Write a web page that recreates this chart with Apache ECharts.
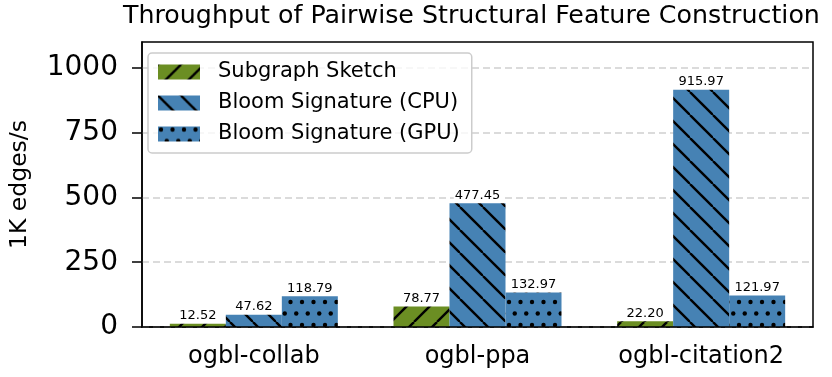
<!DOCTYPE html>
<html>
<head>
<meta charset="utf-8">
<script src="https://cdn.jsdelivr.net/npm/echarts@6/dist/echarts.min.js"></script>
<style>
  html, body { margin: 0; padding: 0; background: #fff; }
  #chart { width: 832px; height: 377px; }
</style>
</head>
<body>
<div id="chart"></div>
<script>
var categories = ['ogbl-collab', 'ogbl-ppa', 'ogbl-citation2'];
var sketchVals = [12.52, 78.77, 22.20];
var cpuVals = [47.62, 477.45, 915.97];
var gpuVals = [118.79, 132.97, 121.97];
var yTicks = [0, 250, 500, 750, 1000];

var FONT = 'DejaVu Sans';

// hatch tiles, like matplotlib '/', '\\' and '.'
function hatchLines(bg, dir) {
    var s = 23;
    var c = document.createElement('canvas');
    c.width = s; c.height = s;
    var ctx = c.getContext('2d');
    ctx.fillStyle = bg;
    ctx.fillRect(0, 0, s, s);
    ctx.strokeStyle = '#000';
    ctx.lineWidth = 2.4;
    for (var k = -1; k <= 1; k++) {
        ctx.beginPath();
        if (dir === '/') {
            ctx.moveTo(k * s, s);
            ctx.lineTo(k * s + s, 0);
        } else {
            ctx.moveTo(k * s, 0);
            ctx.lineTo(k * s + s, s);
        }
        ctx.stroke();
    }
    return { image: c, repeat: 'repeat' };
}

function hatchDots(bg) {
    var s = 23;
    var c = document.createElement('canvas');
    c.width = s; c.height = s;
    var ctx = c.getContext('2d');
    ctx.fillStyle = bg;
    ctx.fillRect(0, 0, s, s);
    ctx.fillStyle = '#000';
    var pts = [[3, 3], [14.5, 3], [8.75, 14.5], [20.25, 14.5]];
    pts.forEach(function (p) {
        ctx.beginPath();
        ctx.arc(p[0], p[1], 2.2, 0, Math.PI * 2);
        ctx.fill();
    });
    return { image: c, repeat: 'repeat' };
}

var green = '#6b8e23';
var blue = '#4682b4';

var barLabel = {
    show: true,
    position: 'top',
    distance: 1,
    fontFamily: FONT,
    fontSize: 13,
    lineHeight: 14,
    color: '#000',
    backgroundColor: '#fff',
    padding: [0, 1, 0, 1],
    formatter: function (p) { return p.value.toFixed(2); }
};

var myChart = echarts.init(document.getElementById('chart'));

var option = {
    animation: false,
    textStyle: { fontFamily: FONT },
    title: {
        text: 'Throughput of Pairwise Structural Feature Construction',
        left: 123,
        top: 2,
        padding: 0,
        textStyle: {
            fontFamily: FONT,
            fontSize: 25.3,
            fontWeight: 'normal',
            lineHeight: 28,
            color: '#000'
        }
    },
    legend: {
        left: 148,
        top: 53,
        orient: 'vertical',
        icon: 'rect',
        itemWidth: 42,
        itemHeight: 15,
        itemGap: 7,
        padding: [7, 12, 7, 10],
        borderColor: '#cccccc',
        borderWidth: 1.5,
        borderRadius: 4,
        backgroundColor: 'rgba(255,255,255,0.8)',
        textStyle: {
            fontFamily: FONT,
            fontSize: 21,
            lineHeight: 24,
            color: '#000',
            padding: [0, 0, 0, 13]
        },
        data: ['Subgraph Sketch', 'Bloom Signature (CPU)', 'Bloom Signature (GPU)']
    },
    grid: {
        left: 139,
        right: 19,
        top: 42,
        bottom: 50,
        show: true,
        borderColor: '#000',
        borderWidth: 1.5,
        backgroundColor: 'transparent'
    },
    xAxis: {
        type: 'category',
        data: categories,
        z: 10,
        axisLine: { lineStyle: { color: '#000', width: 1.5 } },
        axisTick: { alignWithLabel: true, length: 10, lineStyle: { color: '#000', width: 1.5 } },
        axisLabel: {
            fontFamily: FONT,
            fontSize: 24,
            lineHeight: 24,
            margin: 18,
            color: '#000'
        }
    },
    yAxis: {
        type: 'value',
        min: 0,
        max: 1100,
        interval: 250,
        name: '1K edges/s',
        nameLocation: 'middle',
        nameGap: 110,
        nameTextStyle: { fontFamily: FONT, fontSize: 23.5, color: '#000' },
        axisLine: { show: true, lineStyle: { color: '#000', width: 1.5 } },
        axisTick: { show: true, length: 10, customValues: yTicks, lineStyle: { color: '#000', width: 1.5 } },
        axisLabel: {
            customValues: yTicks,
            fontFamily: FONT,
            fontSize: 28,
            margin: 24,
            color: '#000',
            formatter: function (v) { return String(v); }
        },
        splitLine: {
            show: true,
            lineStyle: { color: '#d0d0d0', width: 1.6, type: [7, 4] }
        }
    },
    series: [{
        name: 'Subgraph Sketch',
        type: 'bar',
        barWidth: 56,
        barGap: '0%',
        data: sketchVals,
        itemStyle: { color: hatchLines(green, '/') },
        label: barLabel
    }, {
        name: 'Bloom Signature (CPU)',
        type: 'bar',
        barWidth: 56,
        barGap: '0%',
        data: cpuVals,
        itemStyle: { color: hatchLines(blue, '\\') },
        label: barLabel
    }, {
        name: 'Bloom Signature (GPU)',
        type: 'bar',
        barWidth: 56,
        barGap: '0%',
        data: gpuVals,
        itemStyle: { color: hatchDots(blue) },
        label: barLabel
    }]
};

myChart.setOption(option);
</script>
</body>
</html>
